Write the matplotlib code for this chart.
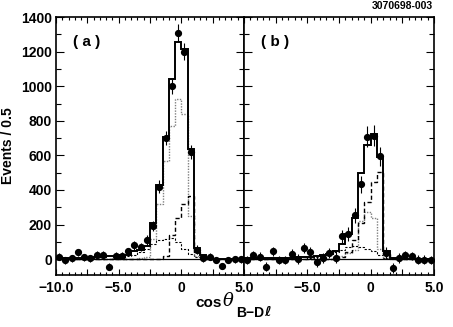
import numpy as np
import matplotlib
matplotlib.use("Agg")
import matplotlib.pyplot as plt
from matplotlib.ticker import MultipleLocator, FuncFormatter

plt.rcParams['font.family'] = ['Liberation Sans', 'DejaVu Sans']
plt.rcParams['font.weight'] = 'bold'

# bin edges of cos(theta_B-Dl), 0.5 wide
edges = np.linspace(-10, 5, 31)
centers = 0.5 * (edges[:-1] + edges[1:])

# ---- panel (a) ----
data_a = [15, -8, 5, 40, 10, 5, 25, 25, -45, 20, 20, 45, 80, 70, 110,
          190, 420, 700, 1000, 1310, 1200, 620, 55, 5, 15, -5, -40, -5, 0, 0]
err_a = [20, 20, 20, 20, 20, 20, 20, 20, 20, 20, 22, 22, 25, 25, 28,
         30, 35, 40, 45, 50, 50, 40, 25, 20, 20, 20, 20, 20, 20, 20]
total_a = [8, 8, 8, 8, 8, 8, 10, 12, 18, 20, 22, 25, 45, 55, 75,
           210, 427, 708, 1040, 1257, 1216, 640, 65, 25, 0, 0, 0, 0, 0, 0]
peak_a = [0, 0, 0, 0, 0, 0, 0, 0, 0, 0, 0, 0, 0, 5, 15,
          115, 317, 570, 770, 925, 840, 250, 20, 5, 0, 0, 0, 0, 0, 0]
dstar_a = [0, 0, 0, 0, 0, 0, 0, 0, 0, 0, 0, 0, 0, 0, 0,
           0, 0, 20, 140, 237, 321, 363, 40, 10, 0, 0, 0, 0, 0, 0]
broad_a = [0, 0, 0, 0, 0, 0, 0, 0, 2, 5, 10, 18, 25, 40, 60,
           90, 110, 118, 120, 100, 60, 30, 10, 3, 0, 0, 0, 0, 0, 0]

# ---- panel (b) ----
data_b = [-5, 24, 15, -44, 44, -5, -5, 30, 1, 65, 40, -15, 7, 36, 7,
          131, 146, 253, 433, 708, 714, 596, 34, -51, 7, 24, 18, -3, -3, -5]
err_b = [25, 25, 25, 25, 25, 25, 25, 28, 28, 30, 30, 30, 30, 30, 32,
         35, 40, 45, 50, 60, 60, 55, 35, 30, 28, 25, 25, 25, 25, 25]
total_b = [5, 5, 5, 5, 5, 5, 8, 8, 10, 10, 15, 18, 22, 30, 49,
           85, 145, 240, 500, 660, 725, 590, 45, 5, 0, 0, 0, 0, 0, 0]
peak_b = [0, 0, 0, 0, 0, 0, 0, 0, 0, 0, 0, 0, 0, 0, 8,
          20, 37, 55, 220, 270, 235, 60, 7, 0, 0, 0, 0, 0, 0, 0]
dstar_b = [0, 0, 0, 0, 0, 0, 0, 0, 0, 0, 0, 0, 0, 0, 0,
           10, 40, 110, 210, 330, 445, 505, 30, 5, 0, 0, 0, 0, 0, 0]
broad_b = [0, 0, 0, 0, 0, 0, 0, 0, 0, 0, 5, 10, 18, 28, 40,
           55, 68, 75, 70, 60, 45, 25, 8, 2, 0, 0, 0, 0, 0, 0]

W, H = 453, 327
fig = plt.figure(figsize=(W / 100, H / 100), dpi=100)
ax_a = fig.add_axes([56 / W, 1 - 275 / H, 188 / W, 258 / H])
ax_b = fig.add_axes([244 / W, 1 - 275 / H, 190 / W, 258 / H], sharey=ax_a)


def xfmt(v, pos):
    if abs(v % 5) > 1e-6:
        return ''
    if abs(v) < 1e-6:
        return '0'
    return '{:.1f}'.format(v).replace('-', '\u2212')


panels = [(ax_a, data_a, err_a, total_a, peak_a, dstar_a, broad_a, '( a )'),
          (ax_b, data_b, err_b, total_b, peak_b, dstar_b, broad_b, '( b )')]

for ax, d, e, tot, pk, ds, br, lab in panels:
    ax.axhline(0, color='black', lw=0.9)
    ax.stairs(br, edges, color='black', lw=0.8, linestyle=(0, (2.0, 1.5)))
    ax.stairs(pk, edges, color='#808080', lw=1.0, linestyle=(0, (1.0, 1.0)))
    ax.stairs(ds, edges, color='black', lw=1.0, linestyle=(0, (3.0, 1.8)))
    ax.stairs(tot, edges, color='black', lw=1.4)
    ax.errorbar(centers, d, yerr=e, fmt='o', color='black', ms=4.2,
                elinewidth=0.8, capsize=0)
    ax.set_xlim(-10, 5)
    ax.set_ylim(-92, 1401)
    ax.xaxis.set_major_locator(MultipleLocator(2.5))
    ax.xaxis.set_minor_locator(MultipleLocator(0.5))
    ax.yaxis.set_major_locator(MultipleLocator(200))
    ax.yaxis.set_minor_locator(MultipleLocator(100))
    ax.xaxis.set_major_formatter(FuncFormatter(xfmt))
    ax.tick_params(which='both', direction='in', top=True, right=True,
                   labelsize=10, width=0.8)
    ax.tick_params(axis='x', which='major', length=4.5, pad=4)
    ax.tick_params(axis='x', which='minor', length=2.3)
    ax.tick_params(axis='y', which='major', length=6, pad=3)
    ax.tick_params(axis='y', which='minor', length=3.5)
    for s in ax.spines.values():
        s.set_linewidth(1.2)
    ax.text(0.09, 0.905, lab, transform=ax.transAxes, fontsize=11,
            fontweight='bold', ha='left', va='center')

ax_b.tick_params(labelleft=False)
ax_b.xaxis.set_major_formatter(FuncFormatter(
    lambda v, p: '' if v < -9.9 else xfmt(v, p)))

ax_a.set_ylabel('Events / 0.5', fontsize=10, fontweight='bold', labelpad=4)

# x label: cos theta_{B-Dl}
fig.text(195 / W, 1 - 303 / H, 'cos', fontsize=11, fontweight='bold',
         ha='left', va='center')
fig.text(223 / W, 1 - 301 / H, '\u03b8', fontsize=13, ha='left',
         va='center', family='DejaVu Serif', style='italic',
         fontweight='normal')
fig.text(236 / W, 1 - 313 / H, 'B\u2212D', fontsize=10, fontweight='bold',
         ha='left', va='center')
fig.text(264 / W, 1 - 312 / H, '\u2113', fontsize=10, ha='left',
         va='center', family='DejaVu Sans', style='italic')

fig.text(433 / W, 1 - 6 / H, '3070698-003', fontsize=7.5, fontweight='bold',
         ha='right', va='center')

fig.savefig('out.png', dpi=100)
